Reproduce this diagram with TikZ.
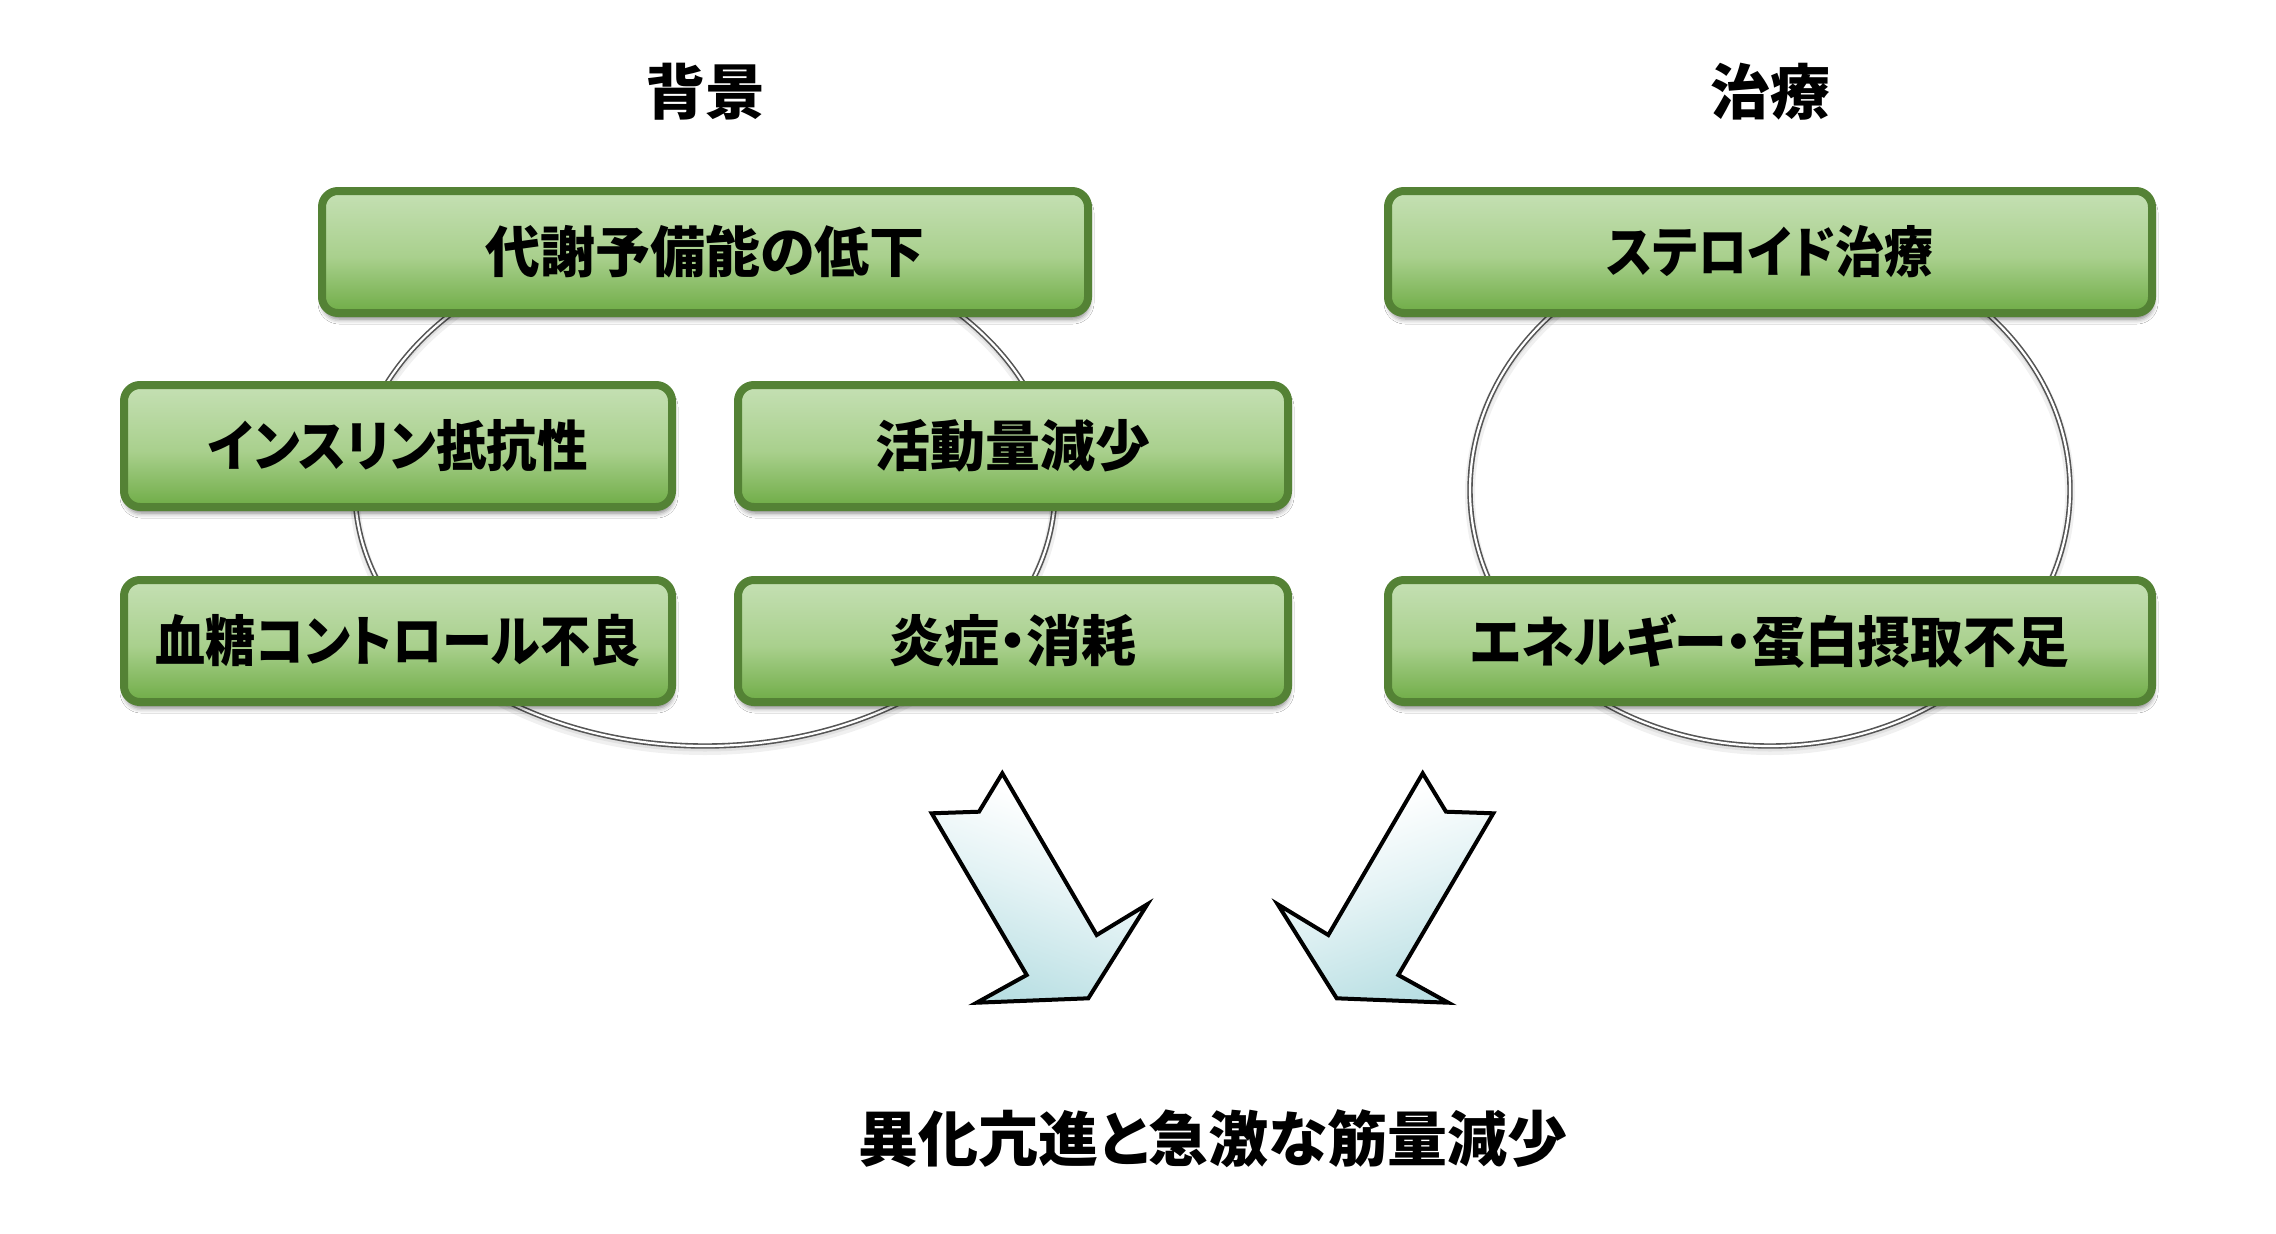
\documentclass[tikz,border=0pt]{standalone}
\usepackage{fontspec}
\usepackage{graphicx}
\newfontfamily\jp{Noto Sans CJK JP}[RawFeature=+palt]
\usetikzlibrary{shadows.blur}
\definecolor{gBorder}{HTML}{548235}
\definecolor{gTop}{HTML}{C5E0B4}
\definecolor{gMid}{HTML}{A9D08D}
\definecolor{gBot}{HTML}{6FAC46}
\definecolor{aBot}{HTML}{B9DFE3}
\definecolor{aMid}{HTML}{E4F3F5}
\definecolor{ringC}{HTML}{555555}
\pgfdeclareverticalshading{boxshade}{100bp}{color(0bp)=(gBot); color(25bp)=(gBot); color(48bp)=(gMid); color(75bp)=(gTop); color(100bp)=(gTop)}
\pgfdeclareverticalshading{arrowshade}{100bp}{color(0bp)=(aBot); color(25bp)=(aBot); color(50bp)=(aMid); color(68bp)=(white); color(100bp)=(white)}
\begin{document}
\begin{tikzpicture}[x=1pt,y=-1pt,
  box/.style={draw=gBorder, line width=8pt, rounded corners=16pt, shading=boxshade,
    minimum height=122pt, inner sep=0pt, text=black,
    font=\jp\bfseries\fontsize{55}{60}\selectfont,
    blur shadow={shadow xshift=1pt, shadow yshift=-6pt, shadow blur radius=5pt, shadow opacity=50}},
  title/.style={font=\jp\bfseries\fontsize{60}{66}\selectfont, text=black, inner sep=0pt},
  ring/.style={draw=ringC, line width=1.6pt, double=white, double distance=2.2pt},
  ringshadow/.style={draw=black, opacity=0.06},
  blockarrow/.style={draw=black, line width=4pt, line join=miter, shading=arrowshade, shading angle=-20}
]
\useasboundingbox (0,0) rectangle (2276,1234);
\fill[white] (0,0) rectangle (2276,1234);

% rings
\draw[ringshadow, line width=10pt] (705,494) ellipse [x radius=350pt, y radius=256pt];
\draw[ringshadow, line width=5pt] (705,493) ellipse [x radius=350pt, y radius=256pt];
\draw[ring] (705,490) ellipse [x radius=350pt, y radius=256pt];
\draw[ringshadow, line width=10pt] (1770,494) ellipse [x radius=300pt, y radius=256pt];
\draw[ringshadow, line width=5pt] (1770,493) ellipse [x radius=300pt, y radius=256pt];
\draw[ring] (1770,490) ellipse [x radius=300pt, y radius=256pt];

% titles
\node[title] (bg) at (705,92) {背景};
\node[title] (tr) at (1770,92) {治療};

% boxes
\node[box, minimum width=766pt] (meta) at (705,252) {代謝予備能の低下};
\node[box, minimum width=548pt] (ins) at (398,446) {\scalebox{0.92}[1]{インスリン抵抗性}};
\node[box, minimum width=550pt] (act) at (1013,446) {活動量減少};
\node[box, minimum width=548pt] (glu) at (398,641) {\scalebox{0.91}[1]{血糖コントロール不良}};
\node[box, minimum width=550pt] (inf) at (1013,641) {炎症・消耗};
\node[box, minimum width=764pt] (ster) at (1770,252) {\scalebox{0.89}[1]{ステロイド治療}};
\node[box, minimum width=764pt] (ener) at (1770,641) {\scalebox{0.96}[1]{エネルギー・蛋白摂取不足}};

% block arrows
\draw[blockarrow] (1002.3,773.3) -- (979,811.7) -- (931.7,813.3) -- (1026.7,975) -- (976.7,1002.7) -- (1088.3,998.3) -- (1147.3,904.3) -- (1096.7,935) -- cycle;
\draw[blockarrow, shading angle=20] (1422.7,773.3) -- (1446,811.7) -- (1493.3,813.3) -- (1398.3,975) -- (1448.3,1002.7) -- (1336.7,998.3) -- (1277.7,904.3) -- (1328.3,935) -- cycle;

% result
\node[title] (res) at (1213,1139) {異化亢進と急激な筋量減少};
\end{tikzpicture}
\end{document}
